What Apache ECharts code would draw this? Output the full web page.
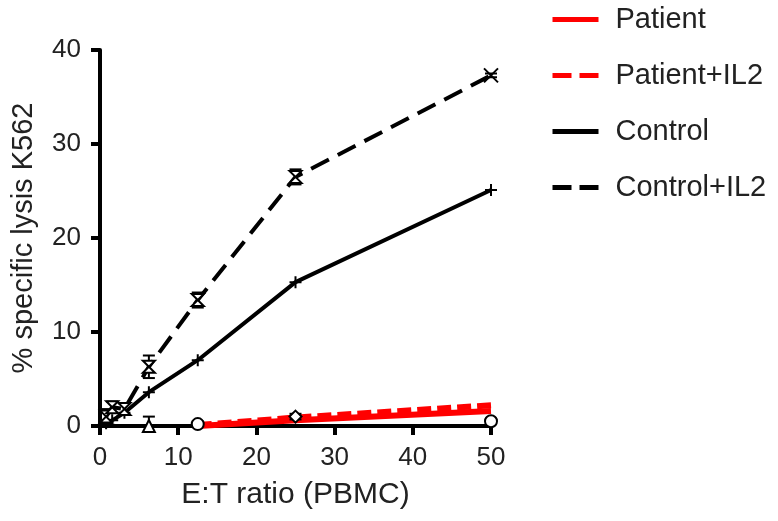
<!DOCTYPE html>
<html>
<head>
<meta charset="utf-8">
<script src="https://cdn.jsdelivr.net/npm/echarts@6/dist/echarts.min.js"></script>
<style>
  html, body { margin: 0; padding: 0; background: #fff; }
  #chart { width: 778px; height: 521px; }
</style>
</head>
<body>
<div id="chart"></div>
<script>
// E:T ratios
const ratios = [0.78, 1.56, 3.125, 6.25, 12.5, 25, 50];
const control = [0.3, 0.6, 1.4, 3.6, 7.0, 15.3, 25.1];
const controlIl2 = [1.0, 2.0, 1.8, 6.3, 13.4, 26.5, 37.3];
const controlIl2Err = [0.8, 0.6, 0.6, 1.2, 0.8, 0.8, 0.2];

// patient curves (red part visible from 12.5 on)
const patientRatios = [12.5, 25, 50];
const patient = [0.0, 0.6, 1.6];
const patientIl2 = [0.1, 0.9, 2.2];

// black markers sitting near zero
const lowRatios = [6.25, 12.5, 25, 50];
const lowValues = [0.0, 0.2, 1.0, 0.5];
const lowErr = [1.0, 0.3, 0.3, 0.3];
const lowSymbols = ['triangle', 'circle', 'diamond', 'circle'];

const FONT = 'Liberation Sans, Arial, sans-serif';
const pairs = (xs, ys) => xs.map((x, i) => [x, ys[i]]);

const crossPath = 'path://M0,0L10,10M10,0L0,10';
const plusPath = 'path://M5,0L5,10M0,5L10,5';
const hourglassPath = 'path://M0,0L10,0L0,10L10,10Z';

function errorBars(xs, ys, errs) {
    return xs.map((x, i) => [x, ys[i] - errs[i], ys[i] + errs[i]]);
}

function renderErr(params, api) {
    const x = api.value(0);
    const lo = api.coord([x, Math.max(0, api.value(1))]);
    const hi = api.coord([x, api.value(2)]);
    const w = 6;
    const style = { stroke: '#000', lineWidth: 2 };
    return {
        type: 'group',
        children: [
            { type: 'line', shape: { x1: lo[0], y1: lo[1], x2: hi[0], y2: hi[1] }, style },
            { type: 'line', shape: { x1: hi[0] - w, y1: hi[1], x2: hi[0] + w, y2: hi[1] }, style },
            { type: 'line', shape: { x1: lo[0] - w, y1: lo[1], x2: lo[0] + w, y2: lo[1] }, style }
        ]
    };
}

const chart = echarts.init(document.getElementById('chart'));

chart.setOption({
    animation: false,
    backgroundColor: '#fff',
    textStyle: { fontFamily: FONT },
    grid: { left: 100, right: 287, top: 50, bottom: 95 },
    legend: {
        orient: 'vertical',
        left: 545,
        top: 0,
        itemWidth: 46,
        itemHeight: 14,
        itemGap: 27,
        itemStyle: { opacity: 0 },
        lineStyle: { width: 5 },
        textStyle: { fontSize: 29, color: '#222', fontFamily: FONT, padding: [0, 0, 0, 12] },
        data: [
            { name: 'Patient' },
            { name: 'Patient+IL2', lineStyle: { type: [19, 8] } },
            { name: 'Control' },
            { name: 'Control+IL2', lineStyle: { type: [19, 8] } }
        ]
    },
    xAxis: {
        type: 'value',
        min: 0,
        max: 50,
        interval: 10,
        name: 'E:T ratio (PBMC)',
        nameLocation: 'middle',
        nameGap: 54,
        nameTextStyle: { fontSize: 30, color: '#222' },
        axisLine: { lineStyle: { color: '#000', width: 4 } },
        axisTick: { length: 9, lineStyle: { color: '#000', width: 4 } },
        axisLabel: { fontSize: 26, color: '#222', margin: 19 },
        splitLine: { show: false }
    },
    yAxis: {
        type: 'value',
        min: 0,
        max: 40,
        interval: 10,
        name: '% specific lysis K562',
        nameLocation: 'middle',
        nameGap: 62,
        nameTextStyle: { fontSize: 29, color: '#222' },
        axisLine: { show: true, lineStyle: { color: '#000', width: 4 } },
        axisTick: { show: true, length: 9, lineStyle: { color: '#000', width: 4 } },
        axisLabel: { fontSize: 26, color: '#222', margin: 19 },
        splitLine: { show: false }
    },
    series: [
        {
            name: 'Patient', type: 'line', symbol: 'none', z: 3,
            data: pairs(patientRatios, patient),
            lineStyle: { color: '#ff0000', width: 6, type: 'solid' },
            itemStyle: { color: '#ff0000' }
        },
        {
            name: 'Patient+IL2', type: 'line', symbol: 'none', z: 3,
            data: pairs(patientRatios, patientIl2),
            lineStyle: { color: '#ff0000', width: 6, type: [14, 6] },
            itemStyle: { color: '#ff0000' }
        },
        {
            name: 'Control', type: 'line', symbol: 'none', z: 3,
            data: pairs(ratios, control),
            lineStyle: { color: '#000', width: 4, type: 'solid' },
            itemStyle: { color: '#000' }
        },
        {
            name: 'Control+IL2', type: 'line', symbol: 'none', z: 3,
            data: pairs(ratios, controlIl2),
            lineStyle: { color: '#000', width: 4, type: [20, 10] },
            itemStyle: { color: '#000' }
        },
        // markers
        {
            type: 'scatter', z: 4, symbol: plusPath, symbolSize: 12,
            data: pairs(ratios, control),
            itemStyle: { color: 'none', borderColor: '#000', borderWidth: 2, opacity: 1 }
        },
        {
            type: 'scatter', z: 4, symbol: hourglassPath, symbolSize: 12,
            data: pairs(ratios.slice(0, 6), controlIl2.slice(0, 6)),
            itemStyle: { color: '#fff', borderColor: '#000', borderWidth: 2, opacity: 1 }
        },
        {
            type: 'scatter', z: 4, symbol: crossPath, symbolSize: 14,
            data: pairs(ratios.slice(6), controlIl2.slice(6)),
            itemStyle: { color: 'none', borderColor: '#000', borderWidth: 2, opacity: 1 }
        },
        {
            type: 'scatter', z: 4, symbolSize: 12,
            symbol: (val, params) => lowSymbols[params.dataIndex],
            data: pairs(lowRatios, lowValues),
            itemStyle: { color: '#fff', borderColor: '#000', borderWidth: 2, opacity: 1 }
        },
        // error bars
        {
            type: 'custom', z: 4, renderItem: renderErr,
            data: errorBars(ratios, controlIl2, controlIl2Err)
        },
        {
            type: 'custom', z: 4, renderItem: renderErr,
            data: errorBars(lowRatios, lowValues, lowErr)
        }
    ]
});
</script>
</body>
</html>
